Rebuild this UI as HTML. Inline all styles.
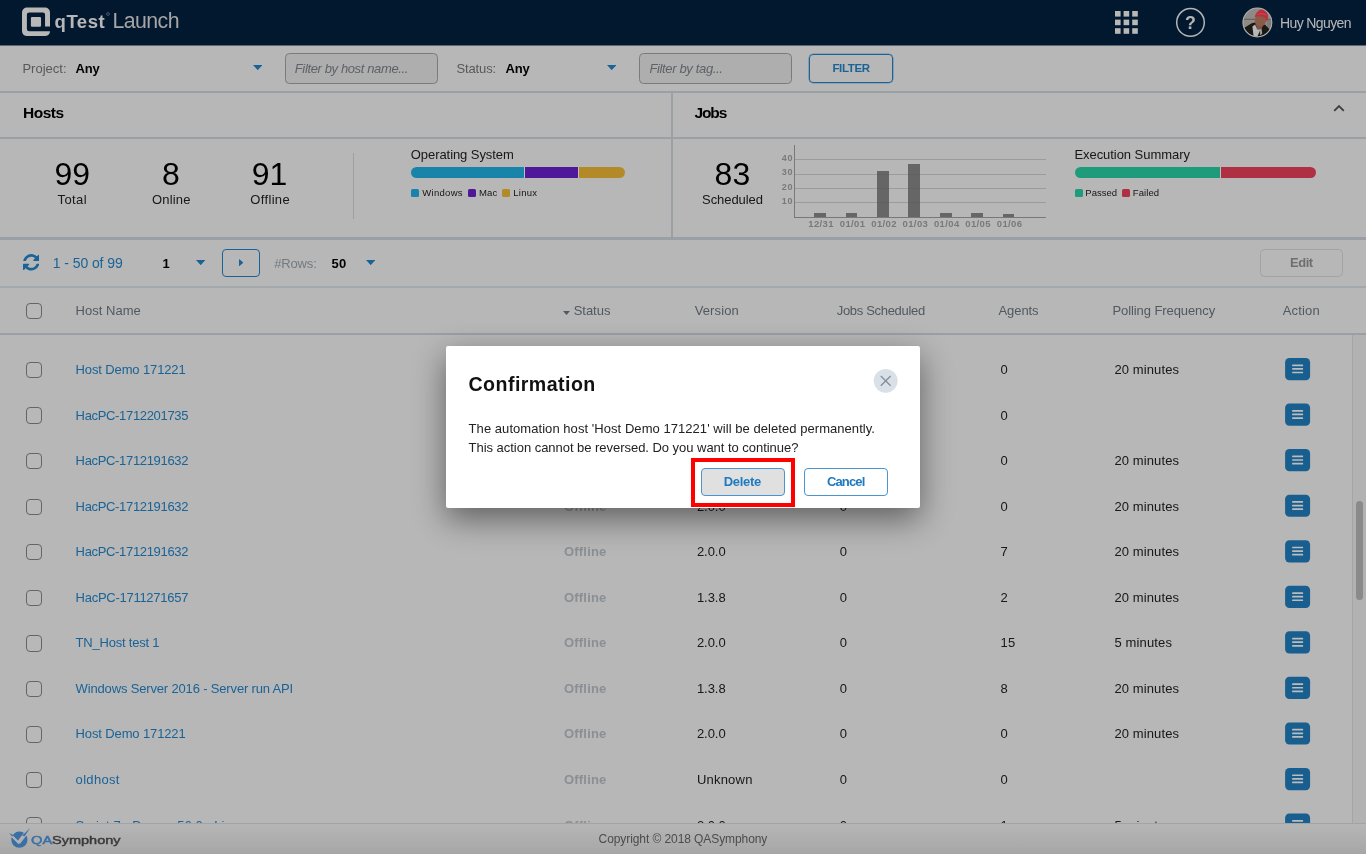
<!DOCTYPE html>
<html lang="en"><head><meta charset="utf-8"><title>qTest Launch</title>
<style>
html,body{margin:0;padding:0;background:#b8b8b8;}
body{width:1366px;height:854px;overflow:hidden;position:relative;font-family:"Liberation Sans", sans-serif;}
#app{position:absolute;left:0;top:0;width:1366px;height:854px;overflow:hidden;will-change:transform;}
.b{position:absolute;display:block;}
.t{position:absolute;white-space:pre;font-family:"Liberation Sans", sans-serif;}
#ov{position:absolute;left:0;top:0;width:1366px;height:854px;background:rgba(0,0,0,.25);z-index:10;}
</style></head>
<body><div id="app">
<div class="b" style="left:0px;top:0px;width:1366px;height:45px;background:#03203f;"></div>
<svg class="b" style="left:20px;top:5px" width="32" height="33" viewBox="20 5 32 33">
<path fill="#f6f6f6" fill-rule="evenodd" d="M27 7.5H45A5 5 0 0 1 50 12.5V26.6H45.05V14.6A2.2 2.2 0 0 0 42.85 12.4H29.1A2.2 2.2 0 0 0 26.9 14.6V28.95A2.2 2.2 0 0 0 29.1 31.15H50A5 5 0 0 1 45 36.1H27A5 5 0 0 1 22 31.1V12.5A5 5 0 0 1 27 7.5Z"/>
<rect x="30.9" y="16.9" width="10.15" height="9.95" rx="1.1" fill="#f6f6f6"/></svg>
<svg class="b" style="left:106px;top:12px" width="4" height="4"><circle cx="2" cy="2" r="1.4" fill="none" stroke="#8d99a8" stroke-width=".7"/></svg>
<svg class="b" style="left:1115.3px;top:11.3px" width="23" height="23"><rect x="0.0" y="0.0" width="5.6" height="5.6" fill="#f4f4f4"/><rect x="8.6" y="0.0" width="5.6" height="5.6" fill="#f4f4f4"/><rect x="17.2" y="0.0" width="5.6" height="5.6" fill="#f4f4f4"/><rect x="0.0" y="8.6" width="5.6" height="5.6" fill="#f4f4f4"/><rect x="8.6" y="8.6" width="5.6" height="5.6" fill="#f4f4f4"/><rect x="17.2" y="8.6" width="5.6" height="5.6" fill="#f4f4f4"/><rect x="0.0" y="17.2" width="5.6" height="5.6" fill="#f4f4f4"/><rect x="8.6" y="17.2" width="5.6" height="5.6" fill="#f4f4f4"/><rect x="17.2" y="17.2" width="5.6" height="5.6" fill="#f4f4f4"/></svg>
<svg class="b" style="left:1175px;top:7px" width="31" height="31" viewBox="0 0 31 31"><circle cx="15.5" cy="15.4" r="13.8" fill="none" stroke="#f2f2f2" stroke-width="1.5"/>
<text x="15.5" y="21.6" text-anchor="middle" font-family='"Liberation Sans",sans-serif' font-weight="bold" font-size="17.8" fill="#f2f2f2">?</text></svg>
<svg class="b" style="left:1242.05px;top:7.4px" width="31" height="31" viewBox="0 0 31 31">
<defs><clipPath id="av"><circle cx="15.4" cy="15.5" r="14.1"/></clipPath>
<filter id="bl" x="-10%" y="-10%" width="120%" height="120%"><feGaussianBlur stdDeviation=".55"/></filter></defs>
<circle cx="15.4" cy="15.5" r="14.5" fill="#bcb7b4"/>
<g clip-path="url(#av)"><g filter="url(#bl)">
<rect x="-2" y="-2" width="35" height="35" fill="#bdb8b5"/>
<rect x="-2" y="11.7" width="35" height="1.2" fill="#8f8274"/>
<rect x="25" y="13" width="8" height="12" fill="#a9a5a3"/>
<path d="M1.5 21.2L9.7 16.3L13 15.6L18 19L23 17.4L28.5 23.5L30 32H0Z" fill="#26211f"/>
<path d="M13.2 16L15.2 22.6L19.6 21.8L21.5 17.5Z" fill="#a8705c"/>
<path d="M10.4 19.6L13.1 17.6L15.3 22.4L18.6 22.2L15.4 29.5H11.6Z" fill="#f4f4f4"/>
<path d="M17.6 22.6L19.6 21.4L20.2 26.5L18.2 28.5Z" fill="#cfcfcf"/>
<ellipse cx="18.4" cy="13.6" rx="5.5" ry="5.9" transform="rotate(-18 18.4 13.6)" fill="#b87a62"/>
<path d="M12.6 10.2C13.4 6.6 15.6 3.6 19.4 2.2C22.6 1.8 25 4.4 25.8 7.6C26.4 10.4 25.6 13.4 24.3 15.1C24.4 12.6 23.6 11.2 22.4 10.4C19.4 8.8 15.4 9.2 12.6 10.2Z" fill="#fb3f50"/>
<path d="M15.4 7.6C18 6.4 21.6 6.4 24.6 8" stroke="#ff7480" stroke-width=".8" fill="none"/>
</g></g>
<circle cx="15.4" cy="15.5" r="14.45" fill="none" stroke="#e9e9e9" stroke-width="1.1"/></svg>
<div class="b" style="left:0px;top:45px;width:1366px;height:809px;background:#f5f5f5;"></div>
<div class="b" style="left:0px;top:45px;width:1366px;height:1px;background:#7c8a9a;"></div>
<svg class="b" style="left:252.8px;top:65.1px" width="9.4" height="5.2" viewBox="0 0 9.4 5.2"><path d="M0 0H9.4L4.7 5.2Z" fill="#2585c8"/></svg>
<svg class="b" style="left:606.9px;top:65.1px" width="9.4" height="5.2" viewBox="0 0 9.4 5.2"><path d="M0 0H9.4L4.7 5.2Z" fill="#2585c8"/></svg>
<div class="b" style="left:285px;top:53px;width:153px;height:30.6px;background:#e8e8e8;border:1px solid #a4a4a4;border-radius:4.5px;box-sizing:border-box;"></div>
<div class="b" style="left:639px;top:53px;width:153px;height:30.6px;background:#e8e8e8;border:1px solid #a4a4a4;border-radius:4.5px;box-sizing:border-box;"></div>
<div class="b" style="left:809px;top:54px;width:84px;height:29px;border:1px solid #2585c8;border-radius:4px;box-sizing:border-box;box-shadow:0 0 0 .3px #2585c8;"></div>
<div class="b" style="left:0px;top:91px;width:1366px;height:2px;background:#cfd6dd;"></div>
<div class="b" style="left:0px;top:137px;width:1366px;height:2px;background:#cfd6dd;"></div>
<div class="b" style="left:671px;top:92px;width:1.6px;height:146px;background:#cfd6dd;"></div>
<div class="b" style="left:0px;top:237px;width:1366px;height:3px;background:#cdd5dc;"></div>
<div class="b" style="left:0px;top:286px;width:1366px;height:2px;background:#d9e0e6;"></div>
<div class="b" style="left:0px;top:333px;width:1366px;height:2px;background:#ccd4dc;"></div>
<div class="b" style="left:353px;top:153px;width:1px;height:66px;background:#d4d4d4;"></div>
<svg class="b" style="left:1332px;top:103px" width="14" height="10" viewBox="0 0 14 10"><path d="M2.2 7.9L7 3.1L11.8 7.9" fill="none" stroke="#555" stroke-width="1.9"/></svg>
<div class="b" style="left:411px;top:167px;width:214.3px;height:11px;border-radius:5.5px;overflow:hidden;background:#fff">
<div class="b" style="left:0;top:0;width:113px;height:11px;background:#22b1e2"></div>
<div class="b" style="left:113.7px;top:0;width:53.3px;height:11px;background:#6a20cf"></div>
<div class="b" style="left:167.6px;top:0;width:47px;height:11px;background:#f0b735"></div></div>
<div class="b" style="left:410.9px;top:189.1px;width:8px;height:8px;background:#22b1e2;border-radius:1.5px;"></div>
<div class="b" style="left:468px;top:189.1px;width:8px;height:8px;background:#6a20cf;border-radius:1.5px;"></div>
<div class="b" style="left:502.3px;top:189.1px;width:8px;height:8px;background:#f0b735;border-radius:1.5px;"></div>
<div class="b" style="left:1075px;top:167px;width:241px;height:11px;border-radius:5.5px;overflow:hidden;background:#fff">
<div class="b" style="left:0;top:0;width:144.8px;height:11px;background:#27cfa3"></div>
<div class="b" style="left:145.5px;top:0;width:96px;height:11px;background:#ea4059"></div></div>
<div class="b" style="left:1075px;top:189.1px;width:8px;height:8px;background:#27cfa3;border-radius:1.5px;"></div>
<div class="b" style="left:1121.5px;top:189.1px;width:8px;height:8px;background:#ea4059;border-radius:1.5px;"></div>
<div class="b" style="left:794.5px;top:158.9px;width:251px;height:1.2px;background:#cfcfcf;"></div>
<div class="b" style="left:794.5px;top:173.5px;width:251px;height:1.2px;background:#cfcfcf;"></div>
<div class="b" style="left:794.5px;top:187.6px;width:251px;height:1.2px;background:#cfcfcf;"></div>
<div class="b" style="left:794.5px;top:201.70000000000002px;width:251px;height:1.2px;background:#cfcfcf;"></div>
<div class="b" style="left:794px;top:145px;width:1px;height:72.5px;background:#a2a2a2;"></div>
<div class="b" style="left:794px;top:216.6px;width:251.5px;height:1px;background:#a0a0a0;"></div>
<div class="b" style="left:814.1px;top:212.7px;width:11.8px;height:4.3px;background:rgba(118,118,118,.86);"></div>
<div class="b" style="left:845.6px;top:212.7px;width:11.8px;height:4.3px;background:rgba(118,118,118,.86);"></div>
<div class="b" style="left:877.1px;top:170.9px;width:11.8px;height:46.1px;background:rgba(118,118,118,.86);"></div>
<div class="b" style="left:908.4px;top:163.7px;width:11.8px;height:53.3px;background:rgba(118,118,118,.86);"></div>
<div class="b" style="left:939.8000000000001px;top:212.7px;width:11.8px;height:4.3px;background:rgba(118,118,118,.86);"></div>
<div class="b" style="left:971.1px;top:212.7px;width:11.8px;height:4.3px;background:rgba(118,118,118,.86);"></div>
<div class="b" style="left:1002.6px;top:214.1px;width:11.8px;height:2.9px;background:rgba(118,118,118,.86);"></div>
<svg class="b" style="left:22.8px;top:254.1px" width="16.5" height="16.7" viewBox="0 0 1536 1536">
<path fill="#2585c8" d="M1511 928q0 5-1 7-64 268-268 434.500T764 1536q-146 0-282.500-55T238 1324l-129 129q-19 19-45 19t-45-19-19-45V960q0-26 19-45t45-19h448q26 0 45 19t19 45-19 45l-137 137q71 66 161 102t187 36q134 0 250-65t186-179q11-17 53-117 8-23 30-23h192q13 0 22.500 9.500t9.500 22.500zm25-800v448q0 26-19 45t-45 19h-448q-26 0-45-19t-19-45 19-45l138-138Q969 256 768 256q-134 0-250 65T332 500q-11 17-53 117-8 23-30 23H50q-13 0-22.500-9.500T18 608v-7q65-268 270-434.500T768 0q146 0 284 55.500T1297 212l130-129q19-19 45-19t45 19 19 45z"/></svg>
<svg class="b" style="left:196.4px;top:260px" width="9.4" height="5.2" viewBox="0 0 9.4 5.2"><path d="M0 0H9.4L4.7 5.2Z" fill="#2585c8"/></svg>
<svg class="b" style="left:366.2px;top:260px" width="9.4" height="5.2" viewBox="0 0 9.4 5.2"><path d="M0 0H9.4L4.7 5.2Z" fill="#2585c8"/></svg>
<div class="b" style="left:222.2px;top:248.5px;width:37.6px;height:28px;border:1px solid #2585c8;border-radius:4px;box-sizing:border-box;"></div>
<svg class="b" style="left:239px;top:259px" width="4.4" height="7.4" viewBox="0 0 4.4 7.4"><path d="M0 0L4.4 3.7L0 7.4Z" fill="#2585c8"/></svg>
<div class="b" style="left:1260.2px;top:248.5px;width:83.2px;height:28px;border:1px solid #d6d9dd;border-radius:4.5px;box-sizing:border-box;"></div>
<div class="b" style="left:25.6px;top:302.6px;width:16.4px;height:16.4px;background:#f6f6f6;border:1px solid #878787;border-radius:4px;box-sizing:border-box;"></div>
<svg class="b" style="left:562.5px;top:311px" width="7" height="4"><path d="M0 0H7L3.5 4Z" fill="#6d7780"/></svg>
<div class="b" style="left:25.6px;top:361.85px;width:16.4px;height:16.4px;background:#f6f6f6;border:1px solid #878787;border-radius:4px;box-sizing:border-box;"></div>
<svg class="b" style="left:1285px;top:358px" width="26" height="24" viewBox="0 0 26 24"><rect x=".1" y="0.00" width="25" height="22.2" rx="4.3" fill="#217fc1"/><rect x="7.1" y="6.45" width="11" height="1.7" rx=".5" fill="#fbfbfb"/><rect x="7.1" y="10.05" width="11" height="1.7" rx=".5" fill="#fbfbfb"/><rect x="7.1" y="13.65" width="11" height="1.7" rx=".5" fill="#fbfbfb"/></svg>
<div class="b" style="left:25.6px;top:407.4px;width:16.4px;height:16.4px;background:#f6f6f6;border:1px solid #878787;border-radius:4px;box-sizing:border-box;"></div>
<svg class="b" style="left:1285px;top:403px" width="26" height="24" viewBox="0 0 26 24"><rect x=".1" y="0.55" width="25" height="22.2" rx="4.3" fill="#217fc1"/><rect x="7.1" y="7.00" width="11" height="1.7" rx=".5" fill="#fbfbfb"/><rect x="7.1" y="10.60" width="11" height="1.7" rx=".5" fill="#fbfbfb"/><rect x="7.1" y="14.20" width="11" height="1.7" rx=".5" fill="#fbfbfb"/></svg>
<div class="b" style="left:25.6px;top:452.95px;width:16.4px;height:16.4px;background:#f6f6f6;border:1px solid #878787;border-radius:4px;box-sizing:border-box;"></div>
<svg class="b" style="left:1285px;top:449px" width="26" height="24" viewBox="0 0 26 24"><rect x=".1" y="0.10" width="25" height="22.2" rx="4.3" fill="#217fc1"/><rect x="7.1" y="6.55" width="11" height="1.7" rx=".5" fill="#fbfbfb"/><rect x="7.1" y="10.15" width="11" height="1.7" rx=".5" fill="#fbfbfb"/><rect x="7.1" y="13.75" width="11" height="1.7" rx=".5" fill="#fbfbfb"/></svg>
<div class="b" style="left:25.6px;top:498.5px;width:16.4px;height:16.4px;background:#f6f6f6;border:1px solid #878787;border-radius:4px;box-sizing:border-box;"></div>
<svg class="b" style="left:1285px;top:494px" width="26" height="24" viewBox="0 0 26 24"><rect x=".1" y="0.65" width="25" height="22.2" rx="4.3" fill="#217fc1"/><rect x="7.1" y="7.10" width="11" height="1.7" rx=".5" fill="#fbfbfb"/><rect x="7.1" y="10.70" width="11" height="1.7" rx=".5" fill="#fbfbfb"/><rect x="7.1" y="14.30" width="11" height="1.7" rx=".5" fill="#fbfbfb"/></svg>
<div class="b" style="left:25.6px;top:544.05px;width:16.4px;height:16.4px;background:#f6f6f6;border:1px solid #878787;border-radius:4px;box-sizing:border-box;"></div>
<svg class="b" style="left:1285px;top:540px" width="26" height="24" viewBox="0 0 26 24"><rect x=".1" y="0.20" width="25" height="22.2" rx="4.3" fill="#217fc1"/><rect x="7.1" y="6.65" width="11" height="1.7" rx=".5" fill="#fbfbfb"/><rect x="7.1" y="10.25" width="11" height="1.7" rx=".5" fill="#fbfbfb"/><rect x="7.1" y="13.85" width="11" height="1.7" rx=".5" fill="#fbfbfb"/></svg>
<div class="b" style="left:25.6px;top:589.6px;width:16.4px;height:16.4px;background:#f6f6f6;border:1px solid #878787;border-radius:4px;box-sizing:border-box;"></div>
<svg class="b" style="left:1285px;top:585px" width="26" height="24" viewBox="0 0 26 24"><rect x=".1" y="0.75" width="25" height="22.2" rx="4.3" fill="#217fc1"/><rect x="7.1" y="7.20" width="11" height="1.7" rx=".5" fill="#fbfbfb"/><rect x="7.1" y="10.80" width="11" height="1.7" rx=".5" fill="#fbfbfb"/><rect x="7.1" y="14.40" width="11" height="1.7" rx=".5" fill="#fbfbfb"/></svg>
<div class="b" style="left:25.6px;top:635.15px;width:16.4px;height:16.4px;background:#f6f6f6;border:1px solid #878787;border-radius:4px;box-sizing:border-box;"></div>
<svg class="b" style="left:1285px;top:631px" width="26" height="24" viewBox="0 0 26 24"><rect x=".1" y="0.30" width="25" height="22.2" rx="4.3" fill="#217fc1"/><rect x="7.1" y="6.75" width="11" height="1.7" rx=".5" fill="#fbfbfb"/><rect x="7.1" y="10.35" width="11" height="1.7" rx=".5" fill="#fbfbfb"/><rect x="7.1" y="13.95" width="11" height="1.7" rx=".5" fill="#fbfbfb"/></svg>
<div class="b" style="left:25.6px;top:680.7px;width:16.4px;height:16.4px;background:#f6f6f6;border:1px solid #878787;border-radius:4px;box-sizing:border-box;"></div>
<svg class="b" style="left:1285px;top:676px" width="26" height="24" viewBox="0 0 26 24"><rect x=".1" y="0.85" width="25" height="22.2" rx="4.3" fill="#217fc1"/><rect x="7.1" y="7.30" width="11" height="1.7" rx=".5" fill="#fbfbfb"/><rect x="7.1" y="10.90" width="11" height="1.7" rx=".5" fill="#fbfbfb"/><rect x="7.1" y="14.50" width="11" height="1.7" rx=".5" fill="#fbfbfb"/></svg>
<div class="b" style="left:25.6px;top:726.25px;width:16.4px;height:16.4px;background:#f6f6f6;border:1px solid #878787;border-radius:4px;box-sizing:border-box;"></div>
<svg class="b" style="left:1285px;top:722px" width="26" height="24" viewBox="0 0 26 24"><rect x=".1" y="0.40" width="25" height="22.2" rx="4.3" fill="#217fc1"/><rect x="7.1" y="6.85" width="11" height="1.7" rx=".5" fill="#fbfbfb"/><rect x="7.1" y="10.45" width="11" height="1.7" rx=".5" fill="#fbfbfb"/><rect x="7.1" y="14.05" width="11" height="1.7" rx=".5" fill="#fbfbfb"/></svg>
<div class="b" style="left:25.6px;top:771.8px;width:16.4px;height:16.4px;background:#f6f6f6;border:1px solid #878787;border-radius:4px;box-sizing:border-box;"></div>
<svg class="b" style="left:1285px;top:767px" width="26" height="24" viewBox="0 0 26 24"><rect x=".1" y="0.95" width="25" height="22.2" rx="4.3" fill="#217fc1"/><rect x="7.1" y="7.40" width="11" height="1.7" rx=".5" fill="#fbfbfb"/><rect x="7.1" y="11.00" width="11" height="1.7" rx=".5" fill="#fbfbfb"/><rect x="7.1" y="14.60" width="11" height="1.7" rx=".5" fill="#fbfbfb"/></svg>
<div class="b" style="left:25.6px;top:817.35px;width:16.4px;height:16.4px;background:#f6f6f6;border:1px solid #878787;border-radius:4px;box-sizing:border-box;"></div>
<svg class="b" style="left:1285px;top:813px" width="26" height="24" viewBox="0 0 26 24"><rect x=".1" y="0.50" width="25" height="22.2" rx="4.3" fill="#217fc1"/><rect x="7.1" y="6.95" width="11" height="1.7" rx=".5" fill="#fbfbfb"/><rect x="7.1" y="10.55" width="11" height="1.7" rx=".5" fill="#fbfbfb"/><rect x="7.1" y="14.15" width="11" height="1.7" rx=".5" fill="#fbfbfb"/></svg>
<div class="b" style="left:1352px;top:335px;width:14px;height:490px;background:#eeeeee;border-left:1px solid #dcdcdc;box-sizing:border-box;"></div>
<div class="b" style="left:1355.9px;top:501px;width:7px;height:99px;background:#b8b8b8;border-radius:3.5px;"></div>
<div class="b" style="left:0px;top:823px;width:1366px;height:31px;background:linear-gradient(#f3f3f3,#dedede);border-top:1px solid #dadada;box-sizing:border-box;z-index:2;"></div>
<svg class="b" style="left:8px;top:826px;z-index:3" width="24" height="24" viewBox="0 0 24 24">
<circle cx="11.4" cy="13.7" r="8.1" fill="#4d95dc"/>
<path d="M10.6 16.7L21.6 2.6" stroke="#ececec" stroke-width="3.6" fill="none"/>
<path d="M3.9 9.9L10.5 16.6L16.4 8.6" stroke="#ececec" stroke-width="2.1" fill="none"/>
<path d="M14.3 9.4L22.2 2.1L16.4 10.6Z" fill="#4d95dc"/>
<path d="M1.2 7.3L5.2 8.9L4.2 10.5Z" fill="#4d95dc"/>
</svg>
<span class="t" style="left:54.57px;top:11px;line-height:21px;font-size:18.5px;color:#f4f4f4;letter-spacing:0.539px;font-weight:bold;">qTest</span>
<span class="t" style="left:112.54px;top:9px;line-height:24px;font-size:21.3px;color:#dcdcdc;letter-spacing:-0.576px;">Launch</span>
<span class="t" style="left:1280.07px;top:15px;line-height:16px;font-size:14px;color:#f4f4f4;letter-spacing:-0.629px;">Huy Nguyen</span>
<span class="t" style="left:22.41px;top:61px;line-height:15px;font-size:13px;color:#777;letter-spacing:0.011px;">Project:</span>
<span class="t" style="left:75.42px;top:61px;line-height:15px;font-size:13px;color:#000;letter-spacing:-0.131px;font-weight:bold;">Any</span>
<span class="t" style="left:294.81px;top:61px;line-height:15px;font-size:13px;color:#7e838b;letter-spacing:-0.374px;font-style:italic;">Filter by host name...</span>
<span class="t" style="left:456.42px;top:61px;line-height:15px;font-size:13px;color:#777;letter-spacing:-0.114px;">Status:</span>
<span class="t" style="left:505.42px;top:61px;line-height:15px;font-size:13px;color:#000;letter-spacing:-0.131px;font-weight:bold;">Any</span>
<span class="t" style="left:649.41px;top:61px;line-height:15px;font-size:13px;color:#7e838b;letter-spacing:-0.349px;font-style:italic;">Filter by tag...</span>
<span class="t" style="left:832.42px;top:62px;line-height:12px;font-size:11.5px;color:#2585c8;letter-spacing:-0.329px;font-weight:bold;">FILTER</span>
<span class="t" style="left:22.90px;top:104px;line-height:17px;font-size:15.5px;color:#000;letter-spacing:-0.437px;font-weight:bold;">Hosts</span>
<span class="t" style="left:694.50px;top:104px;line-height:17px;font-size:15.5px;color:#000;letter-spacing:-1.123px;font-weight:bold;">Jobs</span>
<span class="t" style="left:54.40px;top:156px;line-height:36px;font-size:32px;color:#000;">99</span>
<span class="t" style="left:162.10px;top:156px;line-height:36px;font-size:32px;color:#000;">8</span>
<span class="t" style="left:251.80px;top:156px;line-height:36px;font-size:32px;color:#000;">91</span>
<span class="t" style="left:57.53px;top:192px;line-height:15px;font-size:13px;color:#222222;letter-spacing:0.420px;">Total</span>
<span class="t" style="left:151.96px;top:192px;line-height:15px;font-size:13px;color:#222222;letter-spacing:0.182px;">Online</span>
<span class="t" style="left:250.33px;top:192px;line-height:15px;font-size:13px;color:#222222;letter-spacing:0.332px;">Offline</span>
<span class="t" style="left:410.81px;top:147px;line-height:15px;font-size:13px;color:#222222;letter-spacing:-0.067px;">Operating System</span>
<span class="t" style="left:422.37px;top:187px;line-height:11px;font-size:9.5px;color:#222222;letter-spacing:0.273px;">Windows</span>
<span class="t" style="left:479.07px;top:187px;line-height:11px;font-size:9.5px;color:#222222;letter-spacing:0.134px;">Mac</span>
<span class="t" style="left:513.27px;top:187px;line-height:11px;font-size:9.5px;color:#222222;letter-spacing:0.287px;">Linux</span>
<span class="t" style="left:714.60px;top:156px;line-height:36px;font-size:32px;color:#000;">83</span>
<span class="t" style="left:702.08px;top:192px;line-height:15px;font-size:13px;color:#222222;letter-spacing:-0.076px;">Scheduled</span>
<span class="t" style="left:781.84px;top:153px;line-height:10px;font-size:9px;color:#a2a2a2;letter-spacing:0.547px;font-weight:bold;">40</span>
<span class="t" style="left:781.84px;top:167px;line-height:10px;font-size:9px;color:#a2a2a2;letter-spacing:0.547px;font-weight:bold;">30</span>
<span class="t" style="left:781.84px;top:182px;line-height:10px;font-size:9px;color:#a2a2a2;letter-spacing:0.547px;font-weight:bold;">20</span>
<span class="t" style="left:781.84px;top:196px;line-height:10px;font-size:9px;color:#a2a2a2;letter-spacing:0.547px;font-weight:bold;">10</span>
<span class="t" style="left:808.26px;top:218px;line-height:11px;font-size:9.5px;color:#a2a2a2;letter-spacing:0.375px;font-weight:bold;">12/31</span>
<span class="t" style="left:839.76px;top:218px;line-height:11px;font-size:9.5px;color:#a2a2a2;letter-spacing:0.375px;font-weight:bold;">01/01</span>
<span class="t" style="left:871.26px;top:218px;line-height:11px;font-size:9.5px;color:#a2a2a2;letter-spacing:0.375px;font-weight:bold;">01/02</span>
<span class="t" style="left:902.56px;top:218px;line-height:11px;font-size:9.5px;color:#a2a2a2;letter-spacing:0.375px;font-weight:bold;">01/03</span>
<span class="t" style="left:933.96px;top:218px;line-height:11px;font-size:9.5px;color:#a2a2a2;letter-spacing:0.375px;font-weight:bold;">01/04</span>
<span class="t" style="left:965.26px;top:218px;line-height:11px;font-size:9.5px;color:#a2a2a2;letter-spacing:0.375px;font-weight:bold;">01/05</span>
<span class="t" style="left:996.76px;top:218px;line-height:11px;font-size:9.5px;color:#a2a2a2;letter-spacing:0.375px;font-weight:bold;">01/06</span>
<span class="t" style="left:1074.41px;top:147px;line-height:15px;font-size:13px;color:#222222;letter-spacing:-0.050px;">Execution Summary</span>
<span class="t" style="left:1085.37px;top:187px;line-height:11px;font-size:9.5px;color:#222222;letter-spacing:-0.022px;">Passed</span>
<span class="t" style="left:1132.87px;top:187px;line-height:11px;font-size:9.5px;color:#222222;letter-spacing:0.080px;">Failed</span>
<span class="t" style="left:52.87px;top:255px;line-height:16px;font-size:14px;color:#2585c8;letter-spacing:-0.089px;">1 - 50 of 99</span>
<span class="t" style="left:162.41px;top:256px;line-height:15px;font-size:13px;color:#000;font-weight:bold;">1</span>
<span class="t" style="left:274.22px;top:256px;line-height:15px;font-size:13px;color:#9aa3ab;letter-spacing:-0.165px;">#Rows:</span>
<span class="t" style="left:331.62px;top:256px;line-height:15px;font-size:13px;color:#000;letter-spacing:0.251px;font-weight:bold;">50</span>
<span class="t" style="left:1290.03px;top:255px;line-height:15px;font-size:13px;color:#959595;letter-spacing:-0.473px;font-weight:bold;">Edit</span>
<span class="t" style="left:75.62px;top:303px;line-height:15px;font-size:13px;color:#6d7780;letter-spacing:0.015px;">Host Name</span>
<span class="t" style="left:573.71px;top:303px;line-height:15px;font-size:13px;color:#6d7780;letter-spacing:-0.032px;">Status</span>
<span class="t" style="left:694.71px;top:303px;line-height:15px;font-size:13px;color:#6d7780;letter-spacing:0.114px;">Version</span>
<span class="t" style="left:836.71px;top:303px;line-height:15px;font-size:13px;color:#6d7780;letter-spacing:-0.310px;">Jobs Scheduled</span>
<span class="t" style="left:998.41px;top:303px;line-height:15px;font-size:13px;color:#6d7780;letter-spacing:-0.052px;">Agents</span>
<span class="t" style="left:1112.41px;top:303px;line-height:15px;font-size:13px;color:#6d7780;letter-spacing:-0.082px;">Polling Frequency</span>
<span class="t" style="left:1282.71px;top:303px;line-height:15px;font-size:13px;color:#6d7780;letter-spacing:0.172px;">Action</span>
<span class="t" style="left:75.62px;top:362px;line-height:15px;font-size:13px;color:#2585c8;letter-spacing:-0.128px;">Host Demo 171221</span>
<span class="t" style="left:563.91px;top:362px;line-height:15px;font-size:13px;color:#b8bfc6;letter-spacing:0.214px;font-weight:bold;">Offline</span>
<span class="t" style="left:696.91px;top:362px;line-height:15px;font-size:13px;color:#222222;letter-spacing:-0.050px;">2.0.0</span>
<span class="t" style="left:839.71px;top:362px;line-height:15px;font-size:13px;color:#222222;">0</span>
<span class="t" style="left:1000.62px;top:362px;line-height:15px;font-size:13px;color:#222222;">0</span>
<span class="t" style="left:1114.41px;top:362px;line-height:15px;font-size:13px;color:#222222;letter-spacing:0.108px;">20 minutes</span>
<span class="t" style="left:75.62px;top:408px;line-height:15px;font-size:13px;color:#2585c8;letter-spacing:-0.334px;">HacPC-1712201735</span>
<span class="t" style="left:563.91px;top:408px;line-height:15px;font-size:13px;color:#b8bfc6;letter-spacing:0.214px;font-weight:bold;">Offline</span>
<span class="t" style="left:696.91px;top:408px;line-height:15px;font-size:13px;color:#222222;letter-spacing:-0.050px;">2.0.0</span>
<span class="t" style="left:839.71px;top:408px;line-height:15px;font-size:13px;color:#222222;">0</span>
<span class="t" style="left:1000.62px;top:408px;line-height:15px;font-size:13px;color:#222222;">0</span>
<span class="t" style="left:75.62px;top:453px;line-height:15px;font-size:13px;color:#2585c8;letter-spacing:-0.334px;">HacPC-1712191632</span>
<span class="t" style="left:563.91px;top:453px;line-height:15px;font-size:13px;color:#b8bfc6;letter-spacing:0.214px;font-weight:bold;">Offline</span>
<span class="t" style="left:696.91px;top:453px;line-height:15px;font-size:13px;color:#222222;letter-spacing:-0.050px;">2.0.0</span>
<span class="t" style="left:839.71px;top:453px;line-height:15px;font-size:13px;color:#222222;">0</span>
<span class="t" style="left:1000.62px;top:453px;line-height:15px;font-size:13px;color:#222222;">0</span>
<span class="t" style="left:1114.41px;top:453px;line-height:15px;font-size:13px;color:#222222;letter-spacing:0.108px;">20 minutes</span>
<span class="t" style="left:75.62px;top:499px;line-height:15px;font-size:13px;color:#2585c8;letter-spacing:-0.334px;">HacPC-1712191632</span>
<span class="t" style="left:563.91px;top:499px;line-height:15px;font-size:13px;color:#b8bfc6;letter-spacing:0.214px;font-weight:bold;">Offline</span>
<span class="t" style="left:696.91px;top:499px;line-height:15px;font-size:13px;color:#222222;letter-spacing:-0.050px;">2.0.0</span>
<span class="t" style="left:839.71px;top:499px;line-height:15px;font-size:13px;color:#222222;">0</span>
<span class="t" style="left:1000.62px;top:499px;line-height:15px;font-size:13px;color:#222222;">0</span>
<span class="t" style="left:1114.41px;top:499px;line-height:15px;font-size:13px;color:#222222;letter-spacing:0.108px;">20 minutes</span>
<span class="t" style="left:75.62px;top:544px;line-height:15px;font-size:13px;color:#2585c8;letter-spacing:-0.334px;">HacPC-1712191632</span>
<span class="t" style="left:563.91px;top:544px;line-height:15px;font-size:13px;color:#b8bfc6;letter-spacing:0.214px;font-weight:bold;">Offline</span>
<span class="t" style="left:696.91px;top:544px;line-height:15px;font-size:13px;color:#222222;letter-spacing:-0.050px;">2.0.0</span>
<span class="t" style="left:839.71px;top:544px;line-height:15px;font-size:13px;color:#222222;">0</span>
<span class="t" style="left:1000.62px;top:544px;line-height:15px;font-size:13px;color:#222222;">7</span>
<span class="t" style="left:1114.41px;top:544px;line-height:15px;font-size:13px;color:#222222;letter-spacing:0.108px;">20 minutes</span>
<span class="t" style="left:75.62px;top:590px;line-height:15px;font-size:13px;color:#2585c8;letter-spacing:-0.273px;">HacPC-1711271657</span>
<span class="t" style="left:563.91px;top:590px;line-height:15px;font-size:13px;color:#b8bfc6;letter-spacing:0.214px;font-weight:bold;">Offline</span>
<span class="t" style="left:696.91px;top:590px;line-height:15px;font-size:13px;color:#222222;letter-spacing:-0.050px;">1.3.8</span>
<span class="t" style="left:839.71px;top:590px;line-height:15px;font-size:13px;color:#222222;">0</span>
<span class="t" style="left:1000.62px;top:590px;line-height:15px;font-size:13px;color:#222222;">2</span>
<span class="t" style="left:1114.41px;top:590px;line-height:15px;font-size:13px;color:#222222;letter-spacing:0.108px;">20 minutes</span>
<span class="t" style="left:75.62px;top:635px;line-height:15px;font-size:13px;color:#2585c8;letter-spacing:-0.217px;">TN_Host test 1</span>
<span class="t" style="left:563.91px;top:635px;line-height:15px;font-size:13px;color:#b8bfc6;letter-spacing:0.214px;font-weight:bold;">Offline</span>
<span class="t" style="left:696.91px;top:635px;line-height:15px;font-size:13px;color:#222222;letter-spacing:-0.050px;">2.0.0</span>
<span class="t" style="left:839.71px;top:635px;line-height:15px;font-size:13px;color:#222222;">0</span>
<span class="t" style="left:1000.62px;top:635px;line-height:15px;font-size:13px;color:#222222;letter-spacing:0.101px;">15</span>
<span class="t" style="left:1114.41px;top:635px;line-height:15px;font-size:13px;color:#222222;letter-spacing:0.144px;">5 minutes</span>
<span class="t" style="left:75.62px;top:681px;line-height:15px;font-size:13px;color:#2585c8;letter-spacing:-0.161px;">Windows Server 2016 - Server run API</span>
<span class="t" style="left:563.91px;top:681px;line-height:15px;font-size:13px;color:#b8bfc6;letter-spacing:0.214px;font-weight:bold;">Offline</span>
<span class="t" style="left:696.91px;top:681px;line-height:15px;font-size:13px;color:#222222;letter-spacing:-0.050px;">1.3.8</span>
<span class="t" style="left:839.71px;top:681px;line-height:15px;font-size:13px;color:#222222;">0</span>
<span class="t" style="left:1000.62px;top:681px;line-height:15px;font-size:13px;color:#222222;">8</span>
<span class="t" style="left:1114.41px;top:681px;line-height:15px;font-size:13px;color:#222222;letter-spacing:0.108px;">20 minutes</span>
<span class="t" style="left:75.62px;top:726px;line-height:15px;font-size:13px;color:#2585c8;letter-spacing:-0.128px;">Host Demo 171221</span>
<span class="t" style="left:563.91px;top:726px;line-height:15px;font-size:13px;color:#b8bfc6;letter-spacing:0.214px;font-weight:bold;">Offline</span>
<span class="t" style="left:696.91px;top:726px;line-height:15px;font-size:13px;color:#222222;letter-spacing:-0.050px;">2.0.0</span>
<span class="t" style="left:839.71px;top:726px;line-height:15px;font-size:13px;color:#222222;">0</span>
<span class="t" style="left:1000.62px;top:726px;line-height:15px;font-size:13px;color:#222222;">0</span>
<span class="t" style="left:1114.41px;top:726px;line-height:15px;font-size:13px;color:#222222;letter-spacing:0.108px;">20 minutes</span>
<span class="t" style="left:75.62px;top:772px;line-height:15px;font-size:13px;color:#2585c8;letter-spacing:0.321px;">oldhost</span>
<span class="t" style="left:563.91px;top:772px;line-height:15px;font-size:13px;color:#b8bfc6;letter-spacing:0.214px;font-weight:bold;">Offline</span>
<span class="t" style="left:696.91px;top:772px;line-height:15px;font-size:13px;color:#222222;letter-spacing:0.210px;">Unknown</span>
<span class="t" style="left:839.71px;top:772px;line-height:15px;font-size:13px;color:#222222;">0</span>
<span class="t" style="left:1000.62px;top:772px;line-height:15px;font-size:13px;color:#222222;">0</span>
<span class="t" style="left:75.62px;top:818px;line-height:15px;font-size:13px;color:#2585c8;letter-spacing:0.031px;">Sprint 7 - Demos 56.0 - Linux</span>
<span class="t" style="left:563.91px;top:818px;line-height:15px;font-size:13px;color:#b8bfc6;letter-spacing:0.214px;font-weight:bold;">Offline</span>
<span class="t" style="left:696.91px;top:818px;line-height:15px;font-size:13px;color:#222222;letter-spacing:-0.050px;">2.0.0</span>
<span class="t" style="left:839.71px;top:818px;line-height:15px;font-size:13px;color:#222222;">0</span>
<span class="t" style="left:1000.62px;top:818px;line-height:15px;font-size:13px;color:#222222;">1</span>
<span class="t" style="left:1114.41px;top:818px;line-height:15px;font-size:13px;color:#222222;letter-spacing:0.144px;">5 minutes</span>
<span class="t" style="left:31.38px;top:834px;line-height:12px;font-size:11.6px;color:#4d95dc;z-index:3;transform:scaleX(1.2671);transform-origin:0 0;-webkit-text-stroke:0.45px #4d95dc;">QA</span>
<span class="t" style="left:52.18px;top:834px;line-height:12px;font-size:11.6px;color:#4e4e4e;z-index:3;transform:scaleX(1.2512);transform-origin:0 0;-webkit-text-stroke:0.45px #4e4e4e;">Symphony</span>
<span class="t" style="left:598.62px;top:832px;line-height:14px;font-size:12px;color:#666;letter-spacing:-0.084px;z-index:3;">Copyright © 2018 QASymphony</span>
<span class="t" style="left:468.52px;top:373px;line-height:22px;font-size:19.6px;color:#111;letter-spacing:0.446px;font-weight:bold;z-index:12;">Confirmation</span>
<span class="t" style="left:468.62px;top:421px;line-height:15px;font-size:13px;color:#222;letter-spacing:0.052px;z-index:12;">The automation host &#x27;Host Demo 171221&#x27; will be deleted permanently.</span>
<span class="t" style="left:468.62px;top:440px;line-height:15px;font-size:13px;color:#222;letter-spacing:-0.035px;z-index:12;">This action cannot be reversed. Do you want to continue?</span>
<span class="t" style="left:723.76px;top:474px;line-height:15px;font-size:13px;color:#1e7ac0;letter-spacing:-0.310px;font-weight:bold;z-index:14;">Delete</span>
<span class="t" style="left:826.89px;top:474px;line-height:15px;font-size:13px;color:#1e7ac0;letter-spacing:-0.845px;font-weight:bold;z-index:14;">Cancel</span>
<div id="ov"></div>
<div class="b" style="left:446px;top:346px;width:474px;height:162px;background:#fff;border-radius:2px;box-shadow:0 11px 32px rgba(0,0,0,.48);z-index:11"></div>
<svg class="b" style="left:873px;top:368px;z-index:12" width="26" height="26" viewBox="0 0 26 26"><circle cx="12.7" cy="12.85" r="11.95" fill="#d9e0e8"/>
<path d="M7.8 7.95L17.6 17.75M17.6 7.95L7.8 17.75" stroke="#858e98" stroke-width="1.3" fill="none"/></svg>
<div class="b" style="left:701px;top:468px;width:83.6px;height:28px;background:#e0e0e0;border:1px solid #4a94cf;border-radius:4px;box-sizing:border-box;z-index:12"></div>
<div class="b" style="left:804.4px;top:468px;width:83.4px;height:28px;background:#fff;border:1px solid #4a94cf;border-radius:4px;box-sizing:border-box;z-index:12"></div>
<div class="b" style="left:691.3px;top:458.3px;width:103.6px;height:48.4px;border:4.1px solid #ff0000;box-sizing:border-box;z-index:13"></div>
</div></body></html>
